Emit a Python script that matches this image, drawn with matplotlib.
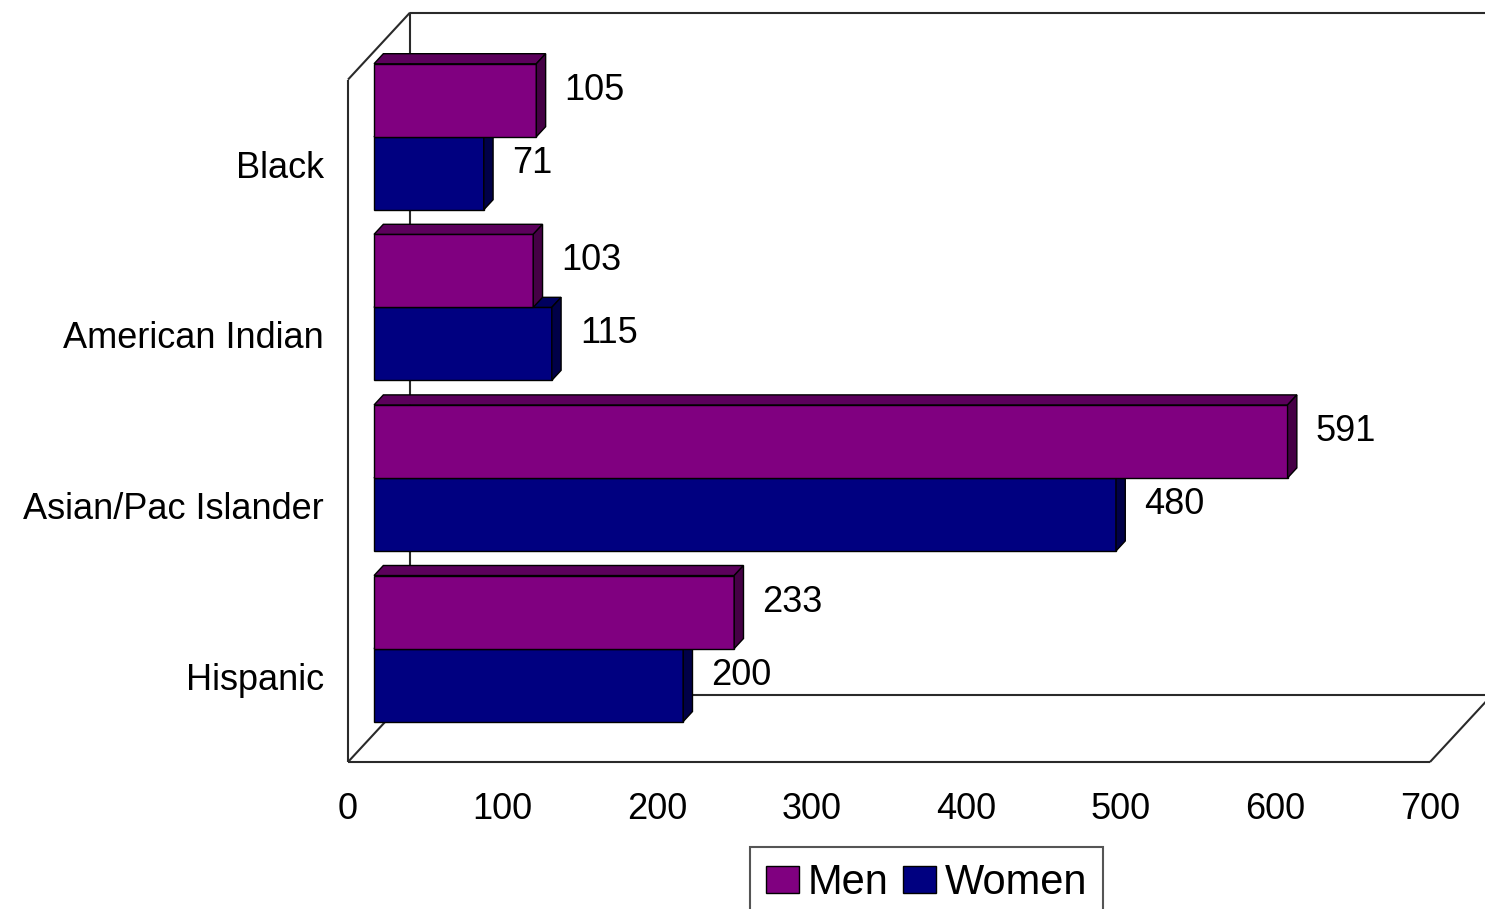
import matplotlib
matplotlib.use('Agg')
import matplotlib.pyplot as plt
from matplotlib.patches import Patch
import numpy as np

# ---- data ----
categories = ['Black', 'American Indian', 'Asian/Pac Islander', 'Hispanic']
men = [105, 103, 591, 233]
women = [71, 115, 480, 200]
series = ['Men', 'Women']
xticks = [0, 100, 200, 300, 400, 500, 600, 700]

# ---- style ----
plt.rcParams['font.family'] = ['Liberation Sans', 'DejaVu Sans']
men_front, men_top, men_side = '#800080', '#5c005c', '#450045'
wom_front, wom_top, wom_side = '#000080', '#00005e', '#000048'
line_c = '#2a2a2a'
FS = 26

W, H = 1485, 909
fig = plt.figure(figsize=(W / 100, H / 100), dpi=100)
ax = fig.add_axes([0, 0, 1, 1])
ax.axis('off')

xmax = xticks[-1]
n = len(categories)
ypos = np.arange(n)[::-1].astype(float)  # Black at top
ylo, yhi = -0.5, n - 0.5

# map data to pixels
x0px, xmaxpx = 348, 1430
sx = (xmaxpx - x0px) / xmax
sy = 170.6
floor_px_from_bottom = 147
ax.set_xlim(-x0px / sx, (W - x0px) / sx)
ax.set_ylim(ylo - floor_px_from_bottom / sy, ylo + (H - floor_px_from_bottom) / sy)

DX = 62 / sx
DY = 67 / sy


def P(x, y, z):
    return (x + z * DX, y + z * DY)


def seg(a, b, **kw):
    ax.plot([a[0], b[0]], [a[1], b[1]], color=line_c, lw=1.5, zorder=1,
            solid_capstyle='butt', **kw)


# ---- walls / floor ----
seg(P(0, ylo, 0), P(0, yhi, 0))
seg(P(0, yhi, 0), P(0, yhi, 1))
seg(P(0, ylo, 1), P(0, yhi, 1))
seg(P(0, yhi, 1), P(xmax, yhi, 1))
seg(P(xmax, ylo, 1), P(xmax, yhi, 1))
seg(P(0, ylo, 0), P(0, ylo, 1))
seg(P(0, ylo, 0), P(xmax, ylo, 0))
seg(P(0, ylo, 1), P(xmax, ylo, 1))
seg(P(xmax, ylo, 0), P(xmax, ylo, 1))

# ---- bars ----
f0, f1 = 0.42, 0.57
h = 0.428


def box_faces(vals, bottoms, top_c, side_c, z):
    for v, b in zip(vals, bottoms):
        t = b + h
        top = [P(0, t, f0), P(v, t, f0), P(v, t, f1), P(0, t, f1)]
        side = [P(v, b, f0), P(v, t, f0), P(v, t, f1), P(v, b, f1)]
        for poly, c in ((top, top_c), (side, side_c)):
            xs, ys = zip(*poly)
            ax.fill(xs, ys, facecolor=c, edgecolor='black', lw=1.0, zorder=z)


wom_bottoms = ypos - h
men_bottoms = ypos
ax.barh(wom_bottoms + h / 2 + f0 * DY, women, height=h, left=f0 * DX,
        color=wom_front, edgecolor='black', lw=1.0, zorder=2)
box_faces(women, wom_bottoms, wom_top, wom_side, 2)
ax.barh(men_bottoms + h / 2 + f0 * DY, men, height=h, left=f0 * DX,
        color=men_front, edgecolor='black', lw=1.0, zorder=3)
box_faces(men, men_bottoms, men_top, men_side, 3)

# ---- value labels ----
em = FS * 100 / 72
base_off = 0.358 * em  # cap-centre to baseline
fl = 0.62
for vals, bottoms in ((men, men_bottoms), (women, wom_bottoms)):
    for v, b in zip(vals, bottoms):
        x, y = P(v, b + h / 2, fl)
        ax.text(x + 16 / sx, y - base_off / sy, f'{v}', fontsize=FS,
                ha='left', va='baseline', color='black', zorder=5)

# ---- category labels ----
for c, y in zip(categories, ypos):
    ax.text(-24 / sx, y - base_off / sy, c, fontsize=FS, ha='right',
            va='baseline', color='black')

# ---- x tick labels ----
for t in xticks:
    ax.text(t, ylo - 44 / sy - base_off / sy, f'{t}', fontsize=FS,
            ha='center', va='baseline', color='black')

# ---- legend ----
handles = [Patch(facecolor=men_front, edgecolor='black'),
           Patch(facecolor=wom_front, edgecolor='black')]
leg = fig.legend(handles, series, loc='upper left',
                 bbox_to_anchor=(750 / W, 1 - 847 / H), ncol=2, fontsize=30,
                 frameon=True, fancybox=False, edgecolor=line_c,
                 handlelength=0.8, handleheight=0.62, handletextpad=0.2,
                 columnspacing=0.35, borderpad=0.38, borderaxespad=0)
leg.get_frame().set_linewidth(1.5)

fig.savefig('out.png', dpi=100)
